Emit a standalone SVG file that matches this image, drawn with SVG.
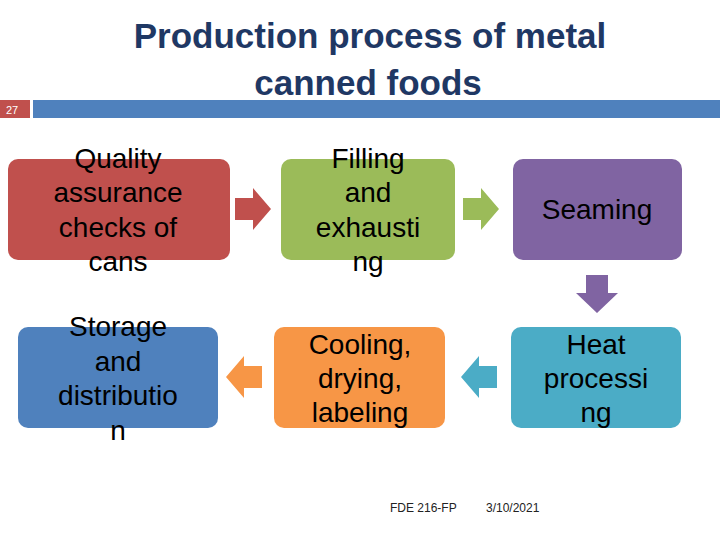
<svg xmlns="http://www.w3.org/2000/svg" width="720" height="540" viewBox="0 0 720 540">
<style>
.t{font-family:"Liberation Sans",Arial,sans-serif;font-size:28px;fill:#000;text-anchor:middle}
.h{font-family:"Liberation Sans",Arial,sans-serif;font-size:35px;font-weight:bold;fill:#1F3864;text-anchor:middle}
.f{font-family:"Liberation Sans",Arial,sans-serif;font-size:12px;fill:#222}
</style>
<rect width="720" height="540" fill="#fff"/>
<text class="h" x="370" y="48">Production process of metal</text>
<text class="h" x="368" y="95">canned foods</text>
<rect x="0" y="100" width="30" height="18" fill="#C0504D"/>
<text x="6" y="114" style="font-family:'Liberation Sans Narrow','Liberation Sans',sans-serif;font-size:11px;fill:#fff">27</text>
<rect x="33" y="100" width="687" height="18" fill="#4F81BD"/>
<g id="n1"><rect x="8" y="159" width="222" height="101" rx="10" fill="#C0504D"/>
<text class="t" x="118" y="168">Quality</text><text class="t" x="118" y="202">assurance</text><text class="t" x="118" y="237">checks of</text><text class="t" x="118" y="271">cans</text></g>
<g id="n2"><rect x="281" y="159" width="174" height="101" rx="10" fill="#9BBB59"/>
<text class="t" x="368" y="168">Filling</text><text class="t" x="368" y="202">and</text><text class="t" x="368" y="237">exhausti</text><text class="t" x="368" y="271">ng</text></g>
<g id="n3"><rect x="513" y="159" width="169" height="101" rx="10" fill="#8064A2"/>
<text class="t" x="597" y="219">Seaming</text></g>
<g id="n4"><rect x="18" y="327" width="200" height="101" rx="10" fill="#4F81BD"/>
<text class="t" x="118" y="336">Storage</text><text class="t" x="118" y="371">and</text><text class="t" x="118" y="405">distributio</text><text class="t" x="118" y="440">n</text></g>
<g id="n5"><rect x="274" y="327" width="171" height="101" rx="10" fill="#F79646"/>
<text class="t" x="360" y="354">Cooling,</text><text class="t" x="360" y="388">drying,</text><text class="t" x="360" y="422">labeling</text></g>
<g id="n6"><rect x="511" y="327" width="170" height="101" rx="10" fill="#4BACC6"/>
<text class="t" x="596" y="354">Heat</text><text class="t" x="596" y="388">processi</text><text class="t" x="596" y="422">ng</text></g>
<g id="connectors">
<polygon points="235,198 253,198 253,188 271,209 253,230 253,220 235,220" fill="#C0504D"/>
<polygon points="463,198 481,198 481,188 499,209 481,230 481,220 463,220" fill="#9BBB59"/>
<polygon points="586,275 608,275 608,293 618,293 597,313 576,293 586,293" fill="#8064A2"/>
<polygon points="497,366 479,366 479,356 461,377 479,398 479,388 497,388" fill="#4BACC6"/>
<polygon points="262,366 244,366 244,356 226,377 244,398 244,388 262,388" fill="#F79646"/>
</g>
<text class="f" x="390" y="512">FDE 216-FP</text>
<text class="f" x="486" y="512">3/10/2021</text>
</svg>
